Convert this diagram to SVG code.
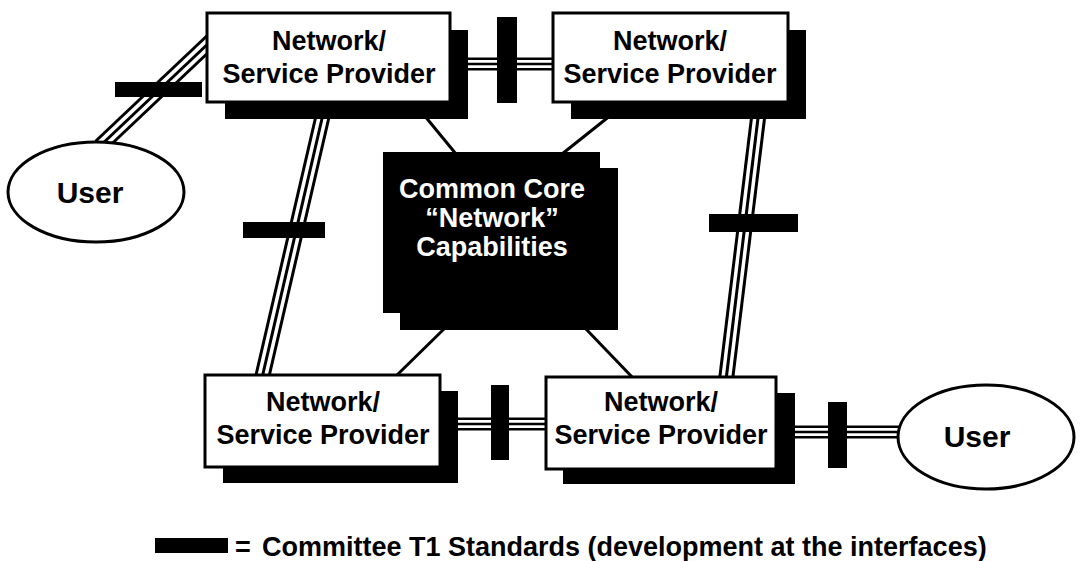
<svg xmlns="http://www.w3.org/2000/svg" width="1080" height="561" viewBox="0 0 1080 561">
<style>
.t{font-family:"Liberation Sans",Arial,sans-serif;font-weight:bold;font-size:27px;fill:#000;text-anchor:middle}
.w{fill:#fff}
.u{font-size:30px}
.box{fill:#fff;stroke:#000;stroke-width:3}
.sh{fill:#000}
.bar{fill:#000}
.o{stroke:#000;stroke-width:16;fill:none}
.m{stroke:#fff;stroke-width:10;fill:none}
.i{stroke:#000;stroke-width:3;fill:none}
.oh{stroke:#000;stroke-width:13;fill:none}
.mh{stroke:#fff;stroke-width:8;fill:none}
.ih{stroke:#000;stroke-width:2.5;fill:none}
.thin{stroke:#000;stroke-width:3;fill:none}
.ell{fill:#fff;stroke:#000;stroke-width:3}
</style>
<rect width="1080" height="561" fill="#fff"/>
<g id="connectors">
  <g id="c-user-tl">
    <path class="o" d="M100 146 L212 40"/><path class="m" d="M100 146 L212 40"/><path class="i" d="M100 146 L212 40"/>
  </g>
  <g id="c-tl-tr">
    <path class="oh" d="M450 64 H555"/><path class="mh" d="M450 64 H555"/><path class="ih" d="M450 64 H555"/>
  </g>
  <g id="c-tl-bl">
    <path class="o" d="M324 110 L262 378"/><path class="m" d="M324 110 L262 378"/><path class="i" d="M324 110 L262 378"/>
  </g>
  <g id="c-tr-br">
    <path class="o" d="M759 110 L726 380"/><path class="m" d="M759 110 L726 380"/><path class="i" d="M759 110 L726 380"/>
  </g>
  <g id="c-bl-br">
    <path class="oh" d="M440 424 H548"/><path class="mh" d="M440 424 H548"/><path class="ih" d="M440 424 H548"/>
  </g>
  <g id="c-br-user">
    <path class="oh" d="M776 432 H900"/><path class="mh" d="M776 432 H900"/><path class="ih" d="M776 432 H900"/>
  </g>
  <path class="thin" d="M424 115 L456 154"/>
  <path class="thin" d="M611 115 L562 154"/>
  <path class="thin" d="M445 328 L395 377"/>
  <path class="thin" d="M585 328 L634 379"/>
  <rect class="bar" x="115" y="82" width="87" height="15"/>
  <rect class="bar" x="497" y="17" width="20" height="86"/>
  <rect class="bar" x="243" y="222" width="82" height="16"/>
  <rect class="bar" x="709" y="214" width="89" height="18"/>
  <rect class="bar" x="491" y="385" width="18" height="75"/>
  <rect class="bar" x="828" y="402" width="19" height="66"/>
</g>
<g id="node-tl">
  <rect class="sh" x="225" y="30" width="243" height="89"/>
  <rect class="box" x="207" y="13" width="243" height="89"/>
  <text class="t" x="329" y="50">Network/</text>
  <text class="t" x="329" y="83">Service Provider</text>
</g>
<g id="node-tr">
  <rect class="sh" x="571" y="30" width="235" height="89"/>
  <rect class="box" x="553" y="13" width="235" height="89"/>
  <text class="t" x="670" y="50">Network/</text>
  <text class="t" x="670" y="83">Service Provider</text>
</g>
<g id="node-core">
  <rect class="sh" x="400" y="168" width="218" height="162"/>
  <rect class="sh" x="383" y="152" width="217" height="161"/>
  <text class="t w" x="492" y="198">Common Core</text>
  <text class="t w" x="492" y="227">“Network”</text>
  <text class="t w" x="492" y="256">Capabilities</text>
</g>
<g id="node-bl">
  <rect class="sh" x="223" y="391" width="235" height="92"/>
  <rect class="box" x="205" y="375" width="235" height="92"/>
  <text class="t" x="323" y="411">Network/</text>
  <text class="t" x="323" y="444">Service Provider</text>
</g>
<g id="node-br">
  <rect class="sh" x="563" y="393" width="232" height="91"/>
  <rect class="box" x="546" y="377" width="230" height="92"/>
  <text class="t" x="661" y="411">Network/</text>
  <text class="t" x="661" y="444">Service Provider</text>
</g>
<g id="node-user-left">
  <ellipse class="ell" cx="96" cy="192" rx="88" ry="50"/>
  <text class="t u" x="90" y="203">User</text>
</g>
<g id="node-user-right">
  <ellipse class="ell" cx="986" cy="437" rx="88" ry="52"/>
  <text class="t u" x="977" y="447">User</text>
</g>
<g id="legend">
  <rect class="bar" x="155" y="538" width="73" height="15"/>
  <text class="t" x="243" y="556">=</text>
  <text class="t" x="262" y="556" style="text-anchor:start">Committee T1 Standards (development at the interfaces)</text>
</g>
</svg>
